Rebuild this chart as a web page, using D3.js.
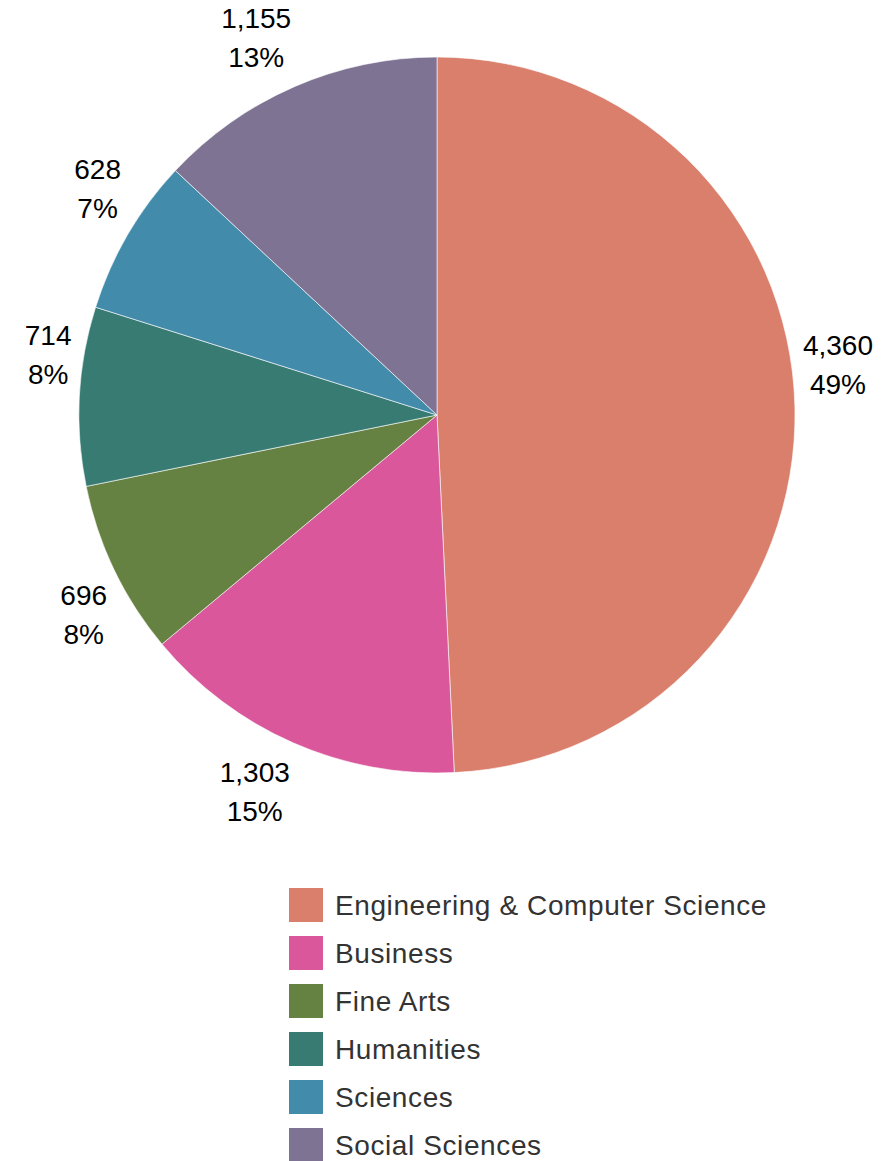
<!DOCTYPE html>
<html><head><meta charset="utf-8">
<script src="https://cdn.jsdelivr.net/npm/d3@7/dist/d3.min.js"></script>
<style>body{margin:0;background:#fff}</style>
</head><body>
<script>
const categories = ["Engineering & Computer Science","Business","Fine Arts","Humanities","Sciences","Social Sciences"];
const values = [4360,1303,696,714,628,1155];
const colors = ["#D97F6C","#D9579A","#668243","#377B73","#428BAA","#7F7394"];

const W=889,H=1161, cx=437, cy=415, R=358;
const FONT="'Liberation Sans', Arial, sans-serif";
const svg=d3.select("body").append("svg").attr("width",W).attr("height",H);
const total=d3.sum(values);
const data=categories.map((c,i)=>({c,v:values[i],col:colors[i]}));
const pie=d3.pie().value(d=>d.v).sort(null);
const arcs=pie(data);
const arc=d3.arc().innerRadius(0).outerRadius(R);
const g=svg.append("g").attr("transform",`translate(${cx},${cy})`);
g.selectAll("path").data(arcs).join("path").attr("d",arc).attr("fill",d=>d.data.col)
 .attr("stroke","#fff").attr("stroke-width",0.6);

const fmt=d3.format(",");
const AR=R+8, FS=28, LH=39, CAP=20, VPAD=12;
arcs.forEach(a=>{
  const m=(a.startAngle+a.endAngle)/2;
  const sx=Math.sin(m), cy_=-Math.cos(m);
  const ax=sx*AR, ay=cy_*AR + (cy_<0 ? -VPAD : VPAD);
  const t=g.append("text").attr("text-anchor","middle")
    .attr("font-family",FONT).attr("font-size",FS).attr("fill","#000");
  const s1=t.append("tspan").text(fmt(a.data.v));
  const s2=t.append("tspan").text(Math.round(a.data.v/total*100)+"%");
  const w=Math.max(s1.node().getComputedTextLength(),s2.node().getComputedTextLength());
  const x = sx>=0 ? ax + w/2 : ax - w/2;
  const b1 = cy_<0 ? ay - LH : ay + CAP;
  s1.attr("x",x).attr("y",b1);
  s2.attr("x",x).attr("y",b1+LH);
});

const lg=svg.append("g").attr("transform","translate(289,888)");
data.forEach((d,i)=>{
  const row=lg.append("g").attr("transform",`translate(0,${i*48})`);
  row.append("rect").attr("width",34).attr("height",34).attr("fill",d.col);
  row.append("text").attr("x",46).attr("y",27).attr("font-family",FONT)
   .attr("font-size",28).attr("letter-spacing",0.6).attr("fill","#333").text(d.c);
});
</script>
</body></html>
